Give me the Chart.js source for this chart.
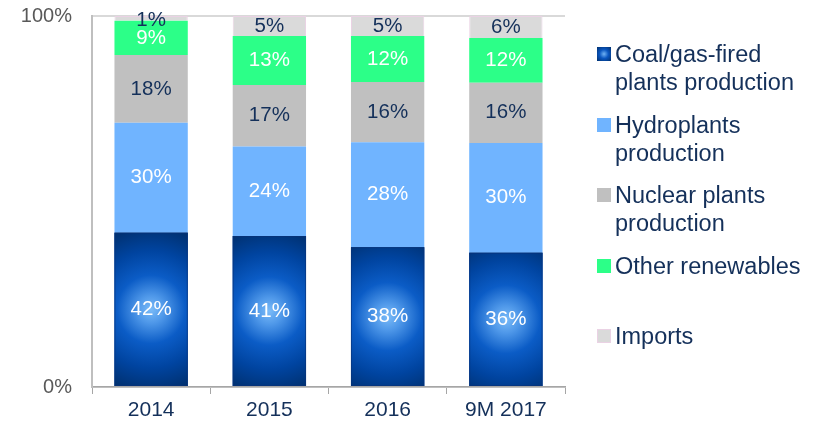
<!DOCTYPE html>
<html>
<head>
<meta charset="utf-8">
<script src="https://cdn.jsdelivr.net/npm/chart.js@4.4.0/dist/chart.umd.min.js"></script>
<style>
  body { margin: 0; background: #fff; font-family: "Liberation Sans", Arial, sans-serif; }
  #wrap { position: relative; width: 822px; height: 424px; }
  #chart { position: absolute; left: 0; top: 0; }
  .leg { position: absolute; left: 597px; color: #14305a; font-size: 23.5px; line-height: 28px; }
  .leg i { position: absolute; left: 0; top: 7px; width: 14px; height: 14px; }
  .leg span { position: absolute; left: 18px; top: 0; white-space: nowrap; }
</style>
</head>
<body>
<div id="wrap">
  <canvas id="chart" width="822" height="424"></canvas>
  <div class="leg" style="top:40px"><i style="background:radial-gradient(circle,#6fb2f4 0%,#0a56c0 45%,#002f6c 100%)"></i><span>Coal/gas-fired<br>plants production</span></div>
  <div class="leg" style="top:111px"><i style="background:#70b4ff"></i><span>Hydroplants<br>production</span></div>
  <div class="leg" style="top:181px"><i style="background:#c0c0c0"></i><span>Nuclear plants<br>production</span></div>
  <div class="leg" style="top:252px"><i style="background:#2cff88"></i><span>Other renewables</span></div>
  <div class="leg" style="top:322px"><i style="background:#dadada;box-shadow:inset 0 0 0 1px #ead2e4"></i><span>Imports</span></div>
</div>
<script>
// ── data (shares in %, labels show the rounded value) ──
var years = ['2014', '2015', '2016', '9M 2017'];
var coal = [41.6, 40.7, 37.7, 36.2];
var hydro = [29.6, 24.1, 28.3, 29.6];
var nuclear = [18.3, 16.6, 16.2, 16.2];
var otherRen = [9.2, 13.2, 12.4, 12.1];
var imports = [1.3, 5.4, 5.4, 5.9];
var yTicks = [0, 100];

var NAVY = '#14305a';
var FONT = '"Liberation Sans", Arial, sans-serif';

// radial shading on the coal/gas bars
var coalShade = {
  id: 'coalShade',
  afterDatasetDraw: function(chart, args) {
    if (args.index !== 0) return;
    var ctx = chart.ctx;
    args.meta.data.forEach(function(bar) {
      var left = bar.x - bar.width / 2, top = bar.y, h = bar.base - bar.y;
      var cx = bar.x, cy = top + h / 2;
      var g = ctx.createRadialGradient(cx, cy, 0, cx, cy, 90);
      g.addColorStop(0, '#7abbf8');
      g.addColorStop(0.15, '#4f98e9');
      g.addColorStop(0.38, '#0b5cc6');
      g.addColorStop(0.65, '#0044a0');
      g.addColorStop(1, '#002b63');
      ctx.save();
      ctx.fillStyle = g;
      ctx.fillRect(left, top, bar.width, h);
      ctx.strokeStyle = 'rgba(10,50,120,0.6)';
      ctx.lineWidth = 1;
      ctx.strokeRect(left + 0.5, top + 0.5, bar.width - 1, h - 1);
      ctx.restore();
    });
  }
};

// value labels in the middle of each segment
var segLabels = {
  id: 'segLabels',
  afterDatasetsDraw: function(chart) {
    var ctx = chart.ctx;
    ctx.save();
    ctx.font = '20.5px ' + FONT;
    ctx.textAlign = 'center';
    ctx.textBaseline = 'middle';
    chart.data.datasets.forEach(function(ds, i) {
      var meta = chart.getDatasetMeta(i);
      ctx.fillStyle = ds.labelColor;
      meta.data.forEach(function(bar, j) {
        var y = (bar.y + bar.base) / 2;
        if (ds.data[j] < 3) y += 2;
        ctx.fillText(Math.round(ds.data[j]) + '%', bar.x, y);
      });
    });
    ctx.restore();
  }
};

new Chart(document.getElementById('chart'), {
  type: 'bar',
  data: {
    labels: years,
    datasets: [
      { label: 'Coal/gas-fired plants production', data: coal, backgroundColor: '#0b4fb0', labelColor: '#ffffff' },
      { label: 'Hydroplants production', data: hydro, backgroundColor: '#70b4ff', labelColor: '#ffffff' },
      { label: 'Nuclear plants production', data: nuclear, backgroundColor: '#c0c0c0', labelColor: NAVY },
      { label: 'Other renewables', data: otherRen, backgroundColor: '#2cff88', labelColor: '#ffffff' },
      { label: 'Imports', data: imports, backgroundColor: '#dadada', borderColor: '#ead2e4', borderWidth: 1, labelColor: NAVY }
    ]
  },
  options: {
    responsive: false,
    animation: false,
    events: [],
    datasets: { bar: { categoryPercentage: 1, barPercentage: 0.62 } },
    layout: { padding: { top: 16, right: 257, left: 0, bottom: 0 } },
    plugins: { legend: { display: false }, tooltip: { enabled: false } },
    scales: {
      x: {
        stacked: true,
        grid: { offset: true, drawOnChartArea: false, drawTicks: true, tickLength: 7, color: '#a6a6a6' },
        border: { color: '#a6a6a6', width: 1.5 },
        ticks: { color: NAVY, font: { size: 21, family: FONT }, padding: 4 },
        afterFit: function(s) { s.height = 37; }
      },
      y: {
        stacked: true,
        min: 0,
        max: 100,
        afterBuildTicks: function(s) { s.ticks = yTicks.map(function(v) { return { value: v }; }); },
        ticks: {
          color: '#595959',
          font: { size: 20, family: FONT },
          padding: 20,
          callback: function(v) { return v + '%'; }
        },
        grid: { color: '#d9d9d9', lineWidth: 2, drawTicks: false },
        border: { color: '#bfbfbf', width: 2 },
        afterFit: function(s) { s.width = 92; s.paddingTop = 0; s.paddingBottom = 0; }
      }
    }
  },
  plugins: [coalShade, segLabels]
});
</script>
</body>
</html>
